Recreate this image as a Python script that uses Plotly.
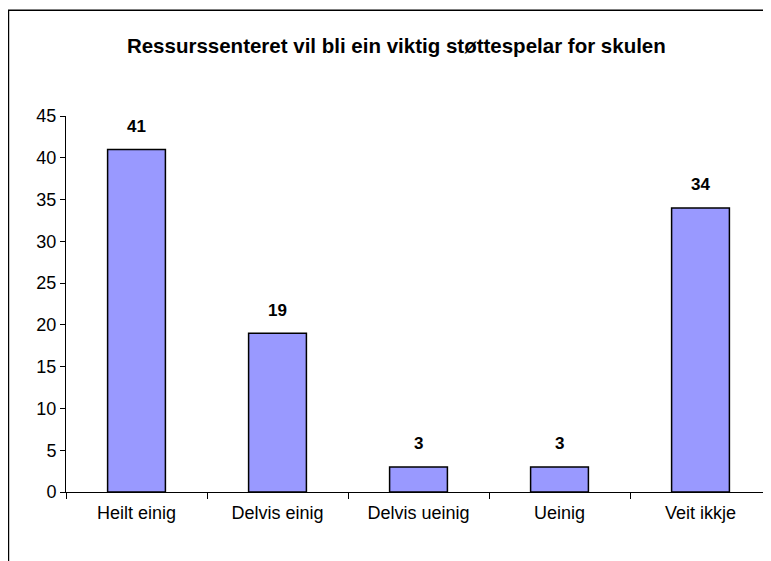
import plotly.graph_objects as go

categories = ["Heilt einig", "Delvis einig", "Delvis ueinig", "Ueinig", "Veit ikkje"]
values = [41, 19, 3, 3, 34]
y_ticks = [0, 5, 10, 15, 20, 25, 30, 35, 40, 45]

title_text = "Ressurssenteret vil bli ein viktig støttespelar for skulen"
font_family = "Arial, Liberation Sans, sans-serif"

fig = go.Figure()
fig.add_trace(go.Bar(
    x=categories,
    y=values,
    width=0.41,
    marker=dict(color="#9999FF", line=dict(color="black", width=1.5)),
    hoverinfo="x+y",
))

# value labels above the bars
for c, v in zip(categories, values):
    fig.add_annotation(x=c, y=v, text="<b>%d</b>" % v, showarrow=False,
                       yshift=23, font=dict(size=17, color="black", family=font_family))

# chart frame (only top and left edges are visible in the crop)
fig.add_shape(type="path", xref="paper", yref="paper",
              path="M -0.0816 -0.2 L -0.0816 1.281 L 1 1.281",
              line=dict(color="black", width=1.5))

# page body adds an 8px offset, so margins are shifted to compensate
fig.update_layout(
    width=763, height=553,
    margin=dict(l=58, r=0, t=108, b=69),
    paper_bgcolor="white", plot_bgcolor="white",
    showlegend=False,
    font=dict(family=font_family, color="black", size=18),
    title=dict(text="<b>" + title_text + "</b>", x=0.509, xref="container", xanchor="center",
               y=1 - 38 / 553, yref="container", yanchor="middle",
               font=dict(size=20.5, family=font_family, color="black")),
    xaxis=dict(range=[-0.5, 4.5], showline=True, linecolor="black", linewidth=1,
               ticks="outside", tickson="boundaries", ticklen=6, tickcolor="black",
               showgrid=False, tickfont=dict(size=18), ticklabelstandoff=4),
    yaxis=dict(range=[0, 45], tickvals=y_ticks, showline=True, linecolor="black", linewidth=1,
               ticks="outside", ticklen=5, tickcolor="black", showgrid=False, zeroline=False,
               tickfont=dict(size=18)),
)

fig.write_html("out.html")
